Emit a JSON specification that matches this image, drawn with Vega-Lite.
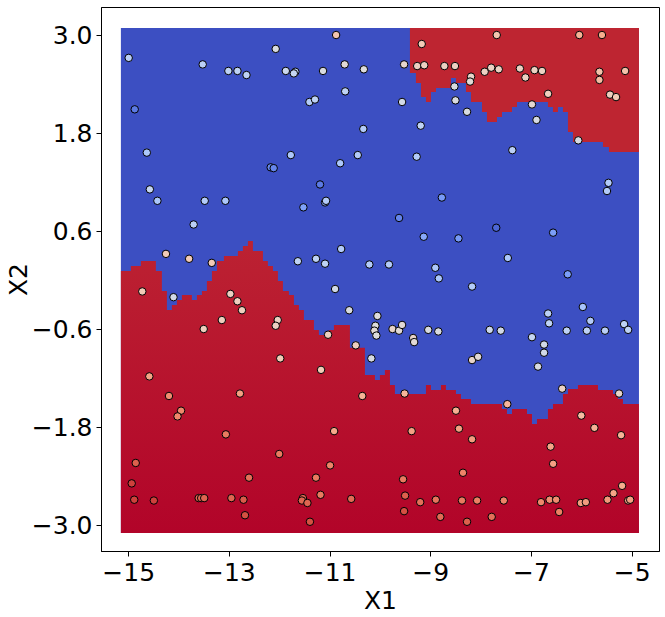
{
  "$schema": "https://vega.github.io/schema/vega-lite/v6.json",
  "width": 558,
  "height": 544,
  "autosize": {"type": "none"},
  "padding": {"left": 101, "top": 7, "right": 6, "bottom": 66},
  "background": "white",
  "config": {
    "view": {"stroke": "black", "strokeWidth": 1},
    "axis": {
      "labelFont": "DejaVu Sans", "labelFontSize": 25, "labelColor": "black",
      "titleFont": "DejaVu Sans", "titleFontSize": 25, "titleFontWeight": "normal", "titleColor": "black",
      "tickColor": "black", "domainColor": "black", "tickSize": 5, "tickWidth": 1, "grid": false, "labelPadding": 4
    }
  },
  "layer": [
    {
      "data": {"values": [{"x": -15.145, "x2": -4.855, "y": -3.098, "y2": 3.086}]},
      "mark": {"type": "rect", "color": "#3c4fc2"},
      "encoding": {
        "x": {"field": "x", "type": "quantitative", "scale": {"domain": [-15.54, -4.457], "nice": false, "zero": false},
              "axis": {"values": [-15, -13, -11, -9, -7, -5], "title": "X1", "titlePadding": 3}},
        "x2": {"field": "x2"},
        "y": {"field": "y", "type": "quantitative", "scale": {"domain": [-3.318, 3.343], "nice": false, "zero": false},
              "axis": {"values": [-3, -1.8, -0.6, 0.6, 1.8, 3], "format": ".1f", "title": "X2", "titlePadding": 0}},
        "y2": {"field": "y2"}
      }
    },
    {
      "data": {"values": [
        {"x": -15.145, "edge": 0.110}, {"x": -14.947, "edge": 0.172}, {"x": -14.748, "edge": 0.233},
        {"x": -14.450, "edge": 0.110}, {"x": -14.331, "edge": -0.135}, {"x": -14.231, "edge": -0.367},
        {"x": -14.132, "edge": -0.306}, {"x": -14.033, "edge": -0.245}, {"x": -13.933, "edge": -0.184},
        {"x": -13.735, "edge": -0.245}, {"x": -13.635, "edge": -0.184}, {"x": -13.536, "edge": -0.135},
        {"x": -13.437, "edge": -0.012}, {"x": -13.337, "edge": 0.110}, {"x": -13.238, "edge": 0.233},
        {"x": -13.099, "edge": 0.294}, {"x": -12.821, "edge": 0.355}, {"x": -12.722, "edge": 0.416},
        {"x": -12.622, "edge": 0.478}, {"x": -12.523, "edge": 0.355}, {"x": -12.324, "edge": 0.233},
        {"x": -12.225, "edge": 0.172}, {"x": -12.125, "edge": 0.110}, {"x": -12.026, "edge": -0.012},
        {"x": -11.927, "edge": -0.135}, {"x": -11.808, "edge": -0.184}, {"x": -11.708, "edge": -0.306},
        {"x": -11.609, "edge": -0.367}, {"x": -11.510, "edge": -0.490}, {"x": -11.311, "edge": -0.612},
        {"x": -11.212, "edge": -0.673}, {"x": -11.013, "edge": -0.612}, {"x": -10.914, "edge": -0.551},
        {"x": -10.596, "edge": -0.830}, {"x": -10.298, "edge": -1.163}, {"x": -10.099, "edge": -1.224},
        {"x": -10.000, "edge": -1.163}, {"x": -9.901, "edge": -1.102}, {"x": -9.801, "edge": -1.286},
        {"x": -9.702, "edge": -1.396}, {"x": -9.086, "edge": -1.286}, {"x": -8.987, "edge": -1.347},
        {"x": -8.788, "edge": -1.286}, {"x": -8.689, "edge": -1.347}, {"x": -8.490, "edge": -1.396},
        {"x": -8.391, "edge": -1.457}, {"x": -8.192, "edge": -1.518}, {"x": -7.576, "edge": -1.579},
        {"x": -7.477, "edge": -1.641}, {"x": -7.377, "edge": -1.579}, {"x": -7.079, "edge": -1.641},
        {"x": -6.980, "edge": -1.763}, {"x": -6.881, "edge": -1.702}, {"x": -6.663, "edge": -1.579},
        {"x": -6.563, "edge": -1.518}, {"x": -6.365, "edge": -1.396}, {"x": -6.265, "edge": -1.335},
        {"x": -6.067, "edge": -1.286}, {"x": -5.669, "edge": -1.347}, {"x": -5.371, "edge": -1.396},
        {"x": -5.272, "edge": -1.457}, {"x": -5.173, "edge": -1.518}, {"x": -4.855, "edge": -1.518}
      ]},
      "mark": {"type": "area", "interpolate": "step-after",
               "color": {"gradient": "linear", "x1": 0, "y1": 0, "x2": 0, "y2": 1,
                         "stops": [{"offset": 0, "color": "#bc2232"}, {"offset": 1, "color": "#b20429"}]}},
      "encoding": {
        "x": {"field": "x", "type": "quantitative",
              "axis": {"values": [-15, -13, -11, -9, -7, -5], "title": "X1", "titlePadding": 3}},
        "y": {"field": "edge", "type": "quantitative",
              "axis": {"values": [-3, -1.8, -0.6, 0.6, 1.8, 3], "format": ".1f", "title": "X2", "titlePadding": 0}},
        "y2": {"datum": -3.098}
      }
    },
    {
      "data": {"values": [
        {"x": -9.404, "edge": 2.535}, {"x": -9.285, "edge": 2.412}, {"x": -9.185, "edge": 2.241},
        {"x": -9.086, "edge": 2.180}, {"x": -8.987, "edge": 2.302}, {"x": -8.887, "edge": 2.351},
        {"x": -8.589, "edge": 2.473}, {"x": -8.490, "edge": 2.412}, {"x": -8.291, "edge": 2.302},
        {"x": -8.192, "edge": 2.180}, {"x": -7.973, "edge": 2.057}, {"x": -7.874, "edge": 1.935},
        {"x": -7.675, "edge": 1.996}, {"x": -7.576, "edge": 2.057}, {"x": -7.377, "edge": 2.118},
        {"x": -7.278, "edge": 2.180}, {"x": -6.663, "edge": 2.118}, {"x": -6.563, "edge": 2.057},
        {"x": -6.464, "edge": 2.118}, {"x": -6.365, "edge": 2.057}, {"x": -6.265, "edge": 1.812},
        {"x": -6.166, "edge": 1.690}, {"x": -5.570, "edge": 1.629}, {"x": -5.451, "edge": 1.567},
        {"x": -4.855, "edge": 1.567}
      ]},
      "mark": {"type": "area", "interpolate": "step-after", "color": "#be2531"},
      "encoding": {
        "x": {"field": "x", "type": "quantitative",
              "axis": {"values": [-15, -13, -11, -9, -7, -5], "title": "X1", "titlePadding": 3}},
        "y": {"field": "edge", "type": "quantitative",
              "axis": {"values": [-3, -1.8, -0.6, 0.6, 1.8, 3], "format": ".1f", "title": "X2", "titlePadding": 0}},
        "y2": {"datum": 3.086}
      }
    },
    {
      "data": {"values": [
        {"x": -14.99, "y": 2.72, "target": 0.37}, {"x": -14.87, "y": 2.09, "target": 0.12},
        {"x": -14.63, "y": 1.56, "target": 0.33}, {"x": -14.57, "y": 1.11, "target": 0.4},
        {"x": -14.42, "y": 0.97, "target": 0.33}, {"x": -14.25, "y": 0.32, "target": 0.6},
        {"x": -13.79, "y": 0.26, "target": 0.6}, {"x": -13.70, "y": 0.68, "target": 0.37},
        {"x": -13.52, "y": 2.64, "target": 0.37}, {"x": -13.48, "y": 0.97, "target": 0.35},
        {"x": -13.34, "y": 0.21, "target": 0.6}, {"x": -13.07, "y": 0.97, "target": 0.33},
        {"x": -13.01, "y": 2.56, "target": 0.38}, {"x": -12.83, "y": 2.56, "target": 0.38},
        {"x": -12.65, "y": 2.51, "target": 0.38}, {"x": -12.07, "y": 2.83, "target": 0.48},
        {"x": -12.17, "y": 1.38, "target": 0.15}, {"x": -12.11, "y": 1.37, "target": 0.15},
        {"x": -11.87, "y": 2.56, "target": 0.42}, {"x": -11.68, "y": 2.55, "target": 0.38},
        {"x": -11.71, "y": 2.53, "target": 0.4}, {"x": -11.77, "y": 1.53, "target": 0.33},
        {"x": -11.63, "y": 0.23, "target": 0.38}, {"x": -11.52, "y": 0.89, "target": 0.22},
        {"x": -11.40, "y": 2.18, "target": 0.35}, {"x": -11.29, "y": 2.21, "target": 0.38},
        {"x": -11.27, "y": 0.26, "target": 0.38}, {"x": -11.19, "y": 1.17, "target": 0.12},
        {"x": -11.09, "y": 0.95, "target": 0.22}, {"x": -11.07, "y": 0.97, "target": 0.35},
        {"x": -11.13, "y": 2.56, "target": 0.48}, {"x": -11.09, "y": 0.20, "target": 0.38},
        {"x": -10.87, "y": 3.00, "target": 0.62}, {"x": -10.79, "y": 1.43, "target": 0.33},
        {"x": -10.77, "y": 0.38, "target": 0.35}, {"x": -10.70, "y": 2.64, "target": 0.52},
        {"x": -10.69, "y": 2.31, "target": 0.38}, {"x": -10.44, "y": 1.53, "target": 0.35},
        {"x": -10.33, "y": 1.85, "target": 0.35}, {"x": -10.32, "y": 2.58, "target": 0.5},
        {"x": -10.21, "y": 0.19, "target": 0.35}, {"x": -9.52, "y": 2.64, "target": 0.54},
        {"x": -9.56, "y": 2.18, "target": 0.45}, {"x": -9.19, "y": 1.89, "target": 0.38},
        {"x": -9.27, "y": 1.51, "target": 0.35}, {"x": -9.17, "y": 2.89, "target": 0.6},
        {"x": -9.26, "y": 2.62, "target": 0.57}, {"x": -9.12, "y": 2.63, "target": 0.57},
        {"x": -8.72, "y": 2.62, "target": 0.57}, {"x": -8.51, "y": 2.62, "target": 0.57},
        {"x": -8.52, "y": 2.37, "target": 0.48}, {"x": -8.50, "y": 2.20, "target": 0.48},
        {"x": -8.19, "y": 2.49, "target": 0.55}, {"x": -8.21, "y": 2.43, "target": 0.52},
        {"x": -8.27, "y": 2.06, "target": 0.48}, {"x": -7.92, "y": 2.55, "target": 0.57},
        {"x": -7.79, "y": 2.60, "target": 0.57}, {"x": -7.64, "y": 2.58, "target": 0.57},
        {"x": -7.68, "y": 3.00, "target": 0.62}, {"x": -7.22, "y": 2.59, "target": 0.57},
        {"x": -7.11, "y": 2.48, "target": 0.57}, {"x": -6.93, "y": 2.57, "target": 0.57},
        {"x": -6.78, "y": 2.56, "target": 0.57}, {"x": -6.98, "y": 2.15, "target": 0.53},
        {"x": -6.89, "y": 1.96, "target": 0.47}, {"x": -6.66, "y": 2.28, "target": 0.58},
        {"x": -7.37, "y": 1.59, "target": 0.37}, {"x": -8.77, "y": 1.01, "target": 0.2},
        {"x": -9.62, "y": 0.76, "target": 0.15}, {"x": -9.13, "y": 0.53, "target": 0.24},
        {"x": -8.44, "y": 0.51, "target": 0.2}, {"x": -7.69, "y": 0.64, "target": 0.07},
        {"x": -6.56, "y": 0.58, "target": 0.21}, {"x": -7.46, "y": 0.27, "target": 0.33},
        {"x": -9.82, "y": 0.19, "target": 0.35}, {"x": -8.90, "y": 0.15, "target": 0.33},
        {"x": -8.83, "y": 0.02, "target": 0.33}, {"x": -6.27, "y": 0.07, "target": 0.21},
        {"x": -6.04, "y": 3.00, "target": 0.68}, {"x": -5.59, "y": 3.00, "target": 0.7},
        {"x": -5.64, "y": 2.55, "target": 0.63}, {"x": -5.64, "y": 2.45, "target": 0.65},
        {"x": -5.13, "y": 2.56, "target": 0.63}, {"x": -5.43, "y": 2.27, "target": 0.58},
        {"x": -5.31, "y": 2.24, "target": 0.6}, {"x": -6.06, "y": 1.71, "target": 0.47},
        {"x": -5.46, "y": 1.19, "target": 0.35}, {"x": -5.49, "y": 1.09, "target": 0.35},
        {"x": -14.72, "y": -0.14, "target": 0.6}, {"x": -14.10, "y": -0.21, "target": 0.45},
        {"x": -12.97, "y": -0.17, "target": 0.57}, {"x": -12.83, "y": -0.26, "target": 0.58},
        {"x": -12.74, "y": -0.37, "target": 0.58}, {"x": -13.14, "y": -0.49, "target": 0.58},
        {"x": -13.50, "y": -0.60, "target": 0.58}, {"x": -12.03, "y": -0.49, "target": 0.57},
        {"x": -12.07, "y": -0.56, "target": 0.57}, {"x": -10.89, "y": -0.11, "target": 0.45},
        {"x": -10.61, "y": -0.37, "target": 0.48}, {"x": -10.05, "y": -0.44, "target": 0.5},
        {"x": -10.09, "y": -0.56, "target": 0.5}, {"x": -10.11, "y": -0.62, "target": 0.52},
        {"x": -10.07, "y": -0.68, "target": 0.5}, {"x": -11.03, "y": -0.67, "target": 0.58},
        {"x": -10.48, "y": -0.80, "target": 0.58}, {"x": -10.17, "y": -0.96, "target": 0.47},
        {"x": -11.98, "y": -0.96, "target": 0.6}, {"x": -11.17, "y": -1.10, "target": 0.6},
        {"x": -14.58, "y": -1.18, "target": 0.72}, {"x": -14.19, "y": -1.42, "target": 0.78},
        {"x": -13.95, "y": -1.60, "target": 0.79}, {"x": -14.02, "y": -1.67, "target": 0.79},
        {"x": -12.78, "y": -1.39, "target": 0.73}, {"x": -10.35, "y": -1.42, "target": 0.68},
        {"x": -13.06, "y": -1.89, "target": 0.82}, {"x": -10.91, "y": -1.85, "target": 0.71},
        {"x": -12.00, "y": -2.13, "target": 0.82}, {"x": -10.99, "y": -2.27, "target": 0.8},
        {"x": -14.85, "y": -2.24, "target": 0.87}, {"x": -14.93, "y": -2.49, "target": 0.92},
        {"x": -14.88, "y": -2.69, "target": 0.92}, {"x": -14.49, "y": -2.70, "target": 0.92},
        {"x": -13.60, "y": -2.67, "target": 0.86}, {"x": -13.55, "y": -2.67, "target": 0.86},
        {"x": -13.49, "y": -2.67, "target": 0.86}, {"x": -12.95, "y": -2.67, "target": 0.86},
        {"x": -12.71, "y": -2.69, "target": 0.88}, {"x": -12.60, "y": -2.42, "target": 0.84},
        {"x": -12.68, "y": -2.88, "target": 0.9}, {"x": -11.53, "y": -2.67, "target": 0.86},
        {"x": -11.55, "y": -2.70, "target": 0.86}, {"x": -11.44, "y": -2.73, "target": 0.86},
        {"x": -11.27, "y": -2.42, "target": 0.82}, {"x": -11.18, "y": -2.63, "target": 0.82},
        {"x": -11.39, "y": -2.96, "target": 0.9}, {"x": -10.57, "y": -2.68, "target": 0.85},
        {"x": -8.17, "y": -0.08, "target": 0.35}, {"x": -5.97, "y": -0.33, "target": 0.32},
        {"x": -5.82, "y": -0.50, "target": 0.35}, {"x": -6.66, "y": -0.41, "target": 0.37},
        {"x": -6.64, "y": -0.53, "target": 0.38}, {"x": -6.29, "y": -0.62, "target": 0.38},
        {"x": -5.89, "y": -0.62, "target": 0.38}, {"x": -5.53, "y": -0.62, "target": 0.37},
        {"x": -5.15, "y": -0.54, "target": 0.38}, {"x": -5.07, "y": -0.61, "target": 0.38},
        {"x": -9.75, "y": -0.60, "target": 0.55}, {"x": -9.62, "y": -0.62, "target": 0.52},
        {"x": -9.56, "y": -0.55, "target": 0.52}, {"x": -9.34, "y": -0.71, "target": 0.55},
        {"x": -9.32, "y": -0.76, "target": 0.52}, {"x": -9.04, "y": -0.61, "target": 0.48},
        {"x": -8.84, "y": -0.63, "target": 0.48}, {"x": -7.82, "y": -0.61, "target": 0.43},
        {"x": -7.60, "y": -0.62, "target": 0.45}, {"x": -6.98, "y": -0.70, "target": 0.4},
        {"x": -6.74, "y": -0.79, "target": 0.45}, {"x": -6.74, "y": -0.89, "target": 0.45},
        {"x": -8.17, "y": -0.98, "target": 0.55}, {"x": -8.05, "y": -0.94, "target": 0.52},
        {"x": -6.86, "y": -1.06, "target": 0.48}, {"x": -6.38, "y": -1.33, "target": 0.56},
        {"x": -5.25, "y": -1.39, "target": 0.55}, {"x": -9.51, "y": -1.39, "target": 0.67},
        {"x": -7.47, "y": -1.52, "target": 0.67}, {"x": -8.49, "y": -1.60, "target": 0.69},
        {"x": -8.43, "y": -1.82, "target": 0.73}, {"x": -8.17, "y": -1.95, "target": 0.74},
        {"x": -9.37, "y": -1.85, "target": 0.73}, {"x": -6.00, "y": -1.66, "target": 0.65},
        {"x": -5.74, "y": -1.81, "target": 0.68}, {"x": -5.21, "y": -1.90, "target": 0.68},
        {"x": -6.61, "y": -2.04, "target": 0.72}, {"x": -6.56, "y": -2.25, "target": 0.73},
        {"x": -8.35, "y": -2.36, "target": 0.8}, {"x": -9.54, "y": -2.44, "target": 0.82},
        {"x": -9.50, "y": -2.64, "target": 0.87}, {"x": -9.52, "y": -2.83, "target": 0.9},
        {"x": -9.20, "y": -2.72, "target": 0.84}, {"x": -8.89, "y": -2.69, "target": 0.83},
        {"x": -8.80, "y": -2.90, "target": 0.85}, {"x": -8.37, "y": -2.70, "target": 0.82},
        {"x": -8.27, "y": -2.96, "target": 0.87}, {"x": -8.07, "y": -2.70, "target": 0.81},
        {"x": -7.78, "y": -2.90, "target": 0.84}, {"x": -7.54, "y": -2.70, "target": 0.8},
        {"x": -6.80, "y": -2.72, "target": 0.79}, {"x": -6.63, "y": -2.69, "target": 0.78},
        {"x": -6.50, "y": -2.69, "target": 0.78}, {"x": -6.44, "y": -2.84, "target": 0.81},
        {"x": -6.01, "y": -2.73, "target": 0.74}, {"x": -5.91, "y": -2.72, "target": 0.74},
        {"x": -5.48, "y": -2.69, "target": 0.75}, {"x": -5.36, "y": -2.61, "target": 0.72},
        {"x": -5.19, "y": -2.52, "target": 0.7}, {"x": -5.07, "y": -2.70, "target": 0.73},
        {"x": -5.03, "y": -2.69, "target": 0.73}
      ]},
      "mark": {"type": "point", "shape": "circle", "filled": true, "size": 56, "stroke": "black", "strokeWidth": 1, "opacity": 1},
      "encoding": {
        "x": {"field": "x", "type": "quantitative",
              "axis": {"values": [-15, -13, -11, -9, -7, -5], "title": "X1", "titlePadding": 3}},
        "y": {"field": "y", "type": "quantitative",
              "axis": {"values": [-3, -1.8, -0.6, 0.6, 1.8, 3], "format": ".1f", "title": "X2", "titlePadding": 0}},
        "fill": {"field": "target", "type": "quantitative", "legend": null,
                 "scale": {"domain": [0, 0.1, 0.2, 0.3, 0.4, 0.5, 0.6, 0.7, 0.8, 0.9, 1],
                           "range": ["#3b4cc0", "#5572df", "#779af7", "#a1c0ff", "#c5d6f2", "#dddcdc", "#f2cbb7", "#f7ac8e", "#ee8468", "#d55042", "#b40426"],
                           "interpolate": "rgb"}}
      }
    }
  ]
}
